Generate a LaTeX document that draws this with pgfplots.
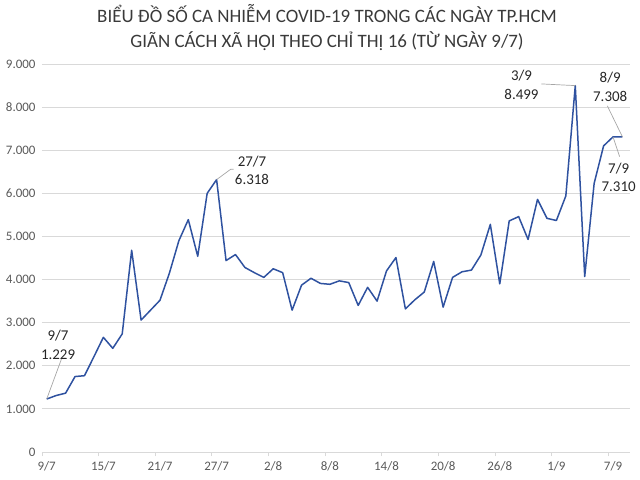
\documentclass[border=0pt]{standalone}
\usepackage{pgfplots}
\pgfplotsset{compat=1.18}
\usepackage{fontspec}
\setmainfont{Carlito}
\definecolor{linec}{HTML}{2F52A0}
\definecolor{gridc}{HTML}{D9D9D9}
\definecolor{tickc}{HTML}{595959}
\definecolor{titlec}{HTML}{3A3A3A}
\definecolor{annc}{HTML}{262626}
\definecolor{leadc}{HTML}{A6A6A6}
\begin{document}
\begin{tikzpicture}[x=1bp,y=1bp]
\begin{axis}[
  at={(42bp,28bp)}, anchor=south west,
  scale only axis, width=588bp, height=388bp,
  xmin=-0.5, xmax=61.8, ymin=0, ymax=9000,
  axis line style={draw=none},
  ymajorgrids, grid style={draw=gridc, line width=0.9bp},
  ytick={0,1000,...,9000},
  yticklabels={0,1.000,2.000,3.000,4.000,5.000,6.000,7.000,8.000,9.000},
  xtick={0,6,...,60},
  xticklabels={9/7,15/7,21/7,27/7,2/8,8/8,14/8,20/8,26/8,1/9,7/9},
  major tick length=0pt,
  tick label style={font=\fontsize{13}{15}\selectfont, text=tickc},
  xticklabel style={yshift=-6bp},
  yticklabel style={xshift=-3bp},
  extra x ticks={-0.5,5.5,...,59.5},
  extra x tick labels={},
  extra x tick style={major tick length=4bp, tick align=outside, tick pos=bottom,
     tick style={draw=gridc, line width=0.9bp}, grid=none},
  clip=false,
]
\addplot[linec, line width=1.5bp, line join=round] table {
x y
0 1229
1 1310
2 1365
3 1750
4 1770
5 2210
6 2660
7 2405
8 2740
9 4680
10 3060
11 3290
12 3520
13 4150
14 4900
15 5390
16 4540
17 6000
18 6318
19 4440
20 4580
21 4280
22 4160
23 4050
24 4250
25 4160
26 3290
27 3870
28 4030
29 3910
30 3890
31 3970
32 3930
33 3400
34 3820
35 3500
36 4200
37 4510
38 3320
39 3530
40 3710
41 4420
42 3360
43 4050
44 4180
45 4220
46 4570
47 5280
48 3900
49 5360
50 5460
51 4930
52 5860
53 5420
54 5370
55 5940
56 8499
57 4070
58 6230
59 7100
60 7310
61 7308
};
\draw[leadc, line width=0.7bp] (axis cs:0,1229) -- (axis cs:1.6,2180);
\draw[leadc, line width=0.7bp] (axis cs:18,6318) -- (axis cs:19.5,6560) -- (axis cs:19.8,6560);
\draw[leadc, line width=0.7bp] (axis cs:52.4,8538) -- (axis cs:56,8499);
\draw[leadc, line width=0.7bp] (axis cs:59.4,8028) -- (axis cs:61,7308);
\draw[leadc, line width=0.7bp] (axis cs:60,7310) -- (axis cs:60.7,6850);
\tikzset{ann/.style={align=center, text=annc, font=\fontsize{15}{18.5}\selectfont, inner sep=0pt}}
\node[ann] at (axis cs:1.2,2480) {9/7\\1.229};
\node[ann] at (axis cs:21.75,6530) {27/7\\6.318};
\node[ann] at (axis cs:50.3,8520) {3/9\\8.499};
\node[ann] at (axis cs:59.7,8470) {8/9\\7.308};
\node[ann] at (axis cs:60.6,6370) {7/9\\7.310};
\end{axis}
\node[align=center, text=titlec, font=\fontsize{19}{25}\selectfont, inner sep=0pt] at (327bp,452bp)
  {BIỂU ĐỒ SỐ CA NHIỄM COVID-19 TRONG CÁC NGÀY TP.HCM\\GIÃN CÁCH XÃ HỘI THEO CHỈ THỊ 16 (TỪ NGÀY 9/7)};
\pgfresetboundingbox
\useasboundingbox (0,0) rectangle (640bp,480bp);
\end{tikzpicture}
\end{document}
